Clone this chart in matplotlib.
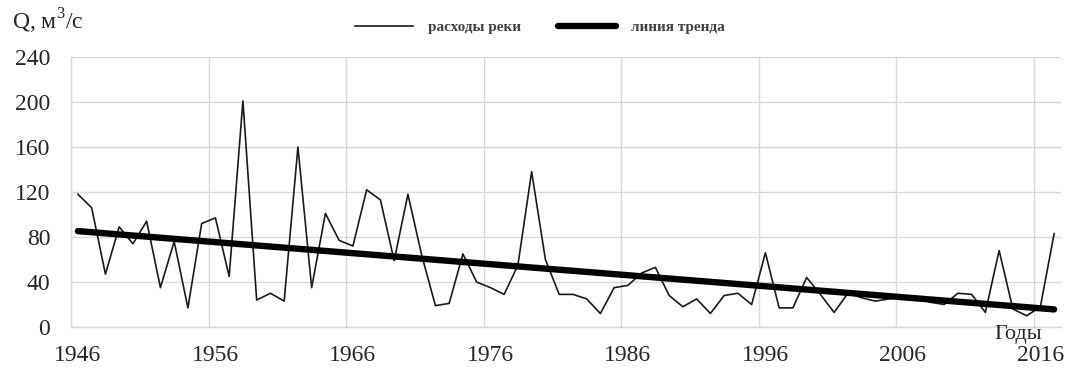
import numpy as np
import matplotlib
matplotlib.use("Agg")
import matplotlib.pyplot as plt
from matplotlib.ticker import FixedLocator

years = list(range(1946, 2018))
discharge = [
    118, 106, 47, 89, 74, 94, 35, 76, 17, 92,      # 1946-1955
    97, 45, 201, 24, 30, 23, 160, 35, 101, 77,     # 1956-1965
    72, 122, 113, 59, 118, 64, 19, 21, 65, 40,     # 1966-1975
    35, 29, 55, 138, 60, 29, 29, 25, 12, 35,       # 1976-1985
    37, 48, 53, 28, 18, 25, 12, 28, 30, 20,        # 1986-1995
    66, 17, 17, 44, 29, 13, 30, 26, 23, 25,        # 1996-2005
    27, 26, 22, 20, 30, 29, 13, 68, 16, 10,        # 2006-2015
    18, 83,                                        # 2016-2017
]
label_years = [1946, 1956, 1966, 1976, 1986, 1996, 2006, 2016]
y_ticks = [0, 40, 80, 120, 160, 200, 240]

series_label = "расходы реки"
trend_label = "линия тренда"
y_title = "Q, м$^3$/с"
x_title = "Годы"

plt.rcParams["font.family"] = ["Liberation Serif", "DejaVu Serif"]
plt.rcParams["mathtext.fontset"] = "custom"
plt.rcParams["mathtext.rm"] = "Liberation Serif"

x = np.array(years, dtype=float)
q = np.array(discharge, dtype=float)
slope, intercept = np.polyfit(x, q, 1)
trend = slope * x + intercept

fig = plt.figure(figsize=(10.70, 3.69), dpi=100)
ax = fig.add_axes([0.0664, 0.1138, 0.9252, 0.7317])

line_data, = ax.plot(x, q, color="#1a1a1a", lw=1.2, label=series_label, zorder=3)
line_trend, = ax.plot(x, trend, color="black", lw=4.6, solid_capstyle="round",
                      label=trend_label, zorder=4)

ax.set_xlim(years[0] - 0.5, years[-1] + 0.5)
ax.set_ylim(y_ticks[0], y_ticks[-1])
ax.set_yticks(y_ticks)
ax.xaxis.set_major_locator(FixedLocator(label_years))
ax.xaxis.set_minor_locator(FixedLocator([yr - 0.5 for yr in label_years]))
ax.grid(False)
ax.grid(True, which="minor", axis="x", color="#d9d9d9", lw=1.0, zorder=0)
ax.grid(True, which="major", axis="y", color="#d9d9d9", lw=1.0, zorder=0)

ax.tick_params(axis="both", which="both", length=0, labelsize=17, colors="#262626")
ax.tick_params(axis="x", pad=13)
ax.tick_params(axis="y", pad=15)

for side in ("top", "right"):
    ax.spines[side].set_visible(False)
for side in ("left", "bottom"):
    ax.spines[side].set_color("#d9d9d9")
    ax.spines[side].set_linewidth(1.0)

fig.text(12 / 1070, 1 - 30 / 369, y_title, fontsize=17, color="#262626",
         ha="left", va="baseline")
fig.text(1018 / 1070, 1 - 339 / 369, x_title, fontsize=16, color="#262626",
         ha="center", va="baseline")

leg = fig.legend(handles=[line_data, line_trend], loc="center",
                 bbox_to_anchor=(540 / 1070, 1 - 27 / 369), ncol=2, frameon=False,
                 fontsize=11, handlelength=3.8, columnspacing=2.4, handletextpad=1.0)
for t in leg.get_texts():
    t.set_color("#404040")
    t.set_fontweight("bold")

fig.savefig("out.png", dpi=100)
